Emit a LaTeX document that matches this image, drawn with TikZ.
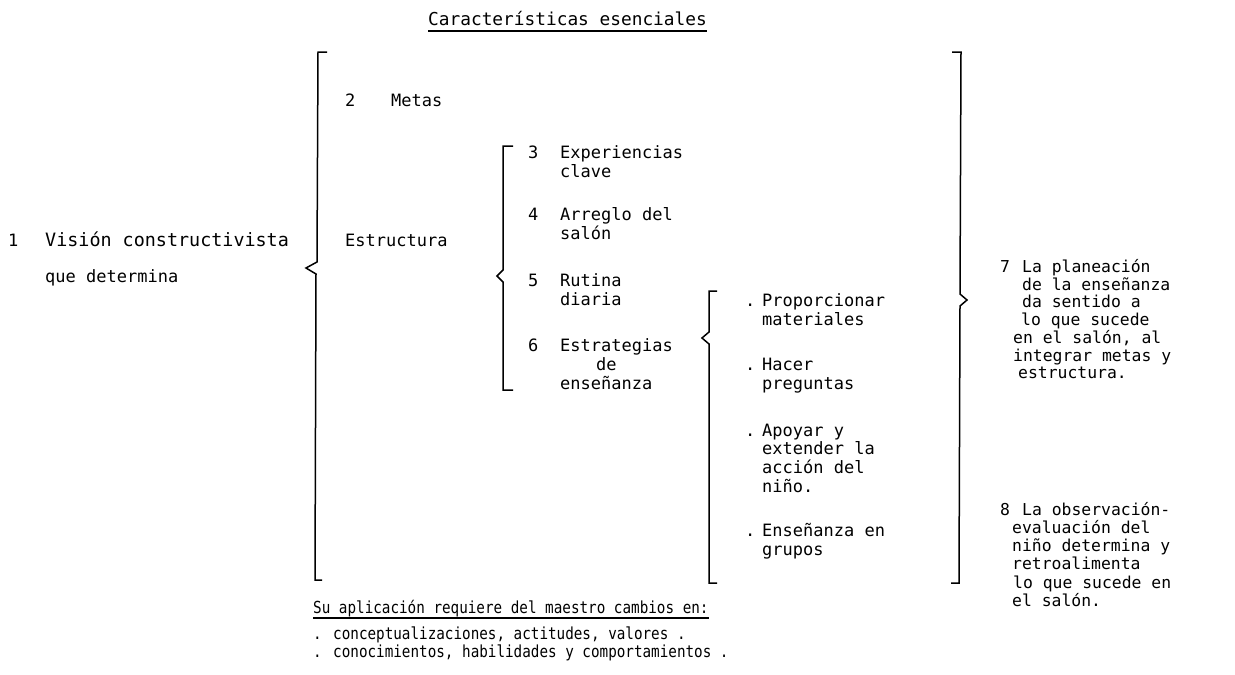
\documentclass[tikz,border=0pt]{standalone}
\usepackage{fontspec}
\setmainfont{DejaVu Sans Mono}
\newfontfamily\narrowtw[FakeStretch=0.86]{DejaVu Sans Mono}
\newcommand{\mlines}[1]{\begin{tabular}[t]{@{}l@{}}#1\end{tabular}}
\begin{document}
\begin{tikzpicture}[x=1pt,y=-1pt,
  txt/.style={inner sep=0pt, anchor=base west, font=\fontsize{17}{19}\selectfont},
  rt/.style={txt, font=\fontsize{16.4}{18}\selectfont},
  small/.style={txt, font=\narrowtw\fontsize{16.6}{18}\selectfont},
  brk/.style={line width=1.5pt, line join=miter},
  uline/.style={line width=1.2pt}]
\useasboundingbox (0,0) rectangle (1235,675);

% title
\node[txt, font=\fontsize{17.8}{19}\selectfont] (title) at (428,25) {Características esenciales};
\draw[uline] ([yshift=-6pt]title.base west) -- ([yshift=-6pt]title.base east);

% 1
\node[txt] (n1) at (8,246) {1};
\node[txt, font=\fontsize{18.4}{19}\selectfont] (vis) at (45,246) {Visión constructivista};
\node[txt] (que) at (45,282) {que determina};

% big left brace
\draw[brk] (327,52) -- (318,52) -- (317,262) -- (306,268) -- (316,274) -- (315,580) -- (322,580);

% 2 and Estructura
\node[txt] (n2) at (345,106) {2};
\node[txt] (metas) at (391,106) {Metas};
\node[txt] (estr) at (345,246) {Estructura};

% brace for 3-6
\draw[brk] (513,146) -- (503,146) -- (503,270) -- (497,276) -- (503,282) -- (503,390) -- (513,390);

\node[txt] (n3) at (528,158) {3};
\node[txt] (t3) at (560,158) {\mlines{Experiencias\\clave}};
\node[txt] (n4) at (528,220) {4};
\node[txt] (t4) at (560,220) {\mlines{Arreglo del\\salón}};
\node[txt] (n5) at (528,286) {5};
\node[txt] (t5) at (560,286) {\mlines{Rutina\\diaria}};
\node[txt] (n6) at (528,351) {6};
\node[txt] (t6) at (560,351) {\mlines{Estrategias\\\hspace*{36pt}de\\enseñanza}};

% brace for strategies
\draw[brk] (717,291) -- (709,291) -- (709,332) -- (702,338) -- (709,344) -- (709,583) -- (717,583);

\node[txt] (d1) at (745,306) {.};
\node[txt] (p1) at (762,306) {\mlines{Proporcionar\\materiales}};
\node[txt] (d2) at (745,370) {.};
\node[txt] (p2) at (762,370) {\mlines{Hacer\\preguntas}};
\node[txt] (d3) at (745,436) {.};
\node[txt, font=\fontsize{17}{18.4}\selectfont] (p3) at (762,436) {\mlines{Apoyar y\\extender la\\acción del\\niño.}};
\node[txt] (d4) at (745,536) {.};
\node[txt] (p4) at (762,536) {\mlines{Enseñanza en\\grupos}};

% big right brace
\draw[brk] (952,52) -- (961,52) -- (960,294) -- (967,300) -- (960,306) -- (959,583) -- (951,583);

% 7
\node[rt] (n7) at (1000,272) {7};
\node[rt] (a1) at (1022,272) {La planeación};
\node[rt] (a2) at (1022,290) {de la enseñanza};
\node[rt] (a3) at (1022,307) {da sentido a};
\node[rt] (a4) at (1021,325) {lo que sucede};
\node[rt] (a5) at (1013,343) {en el salón, al};
\node[rt] (a6) at (1013,361) {integrar metas y};
\node[rt] (a7) at (1018,378) {estructura.};

% 8
\node[rt] (n8) at (1000,515) {8};
\node[rt] (b1) at (1022,515) {La observación-};
\node[rt] (b2) at (1012,533) {evaluación del};
\node[rt] (b3) at (1012,551) {niño determina y};
\node[rt] (b4) at (1012,569) {retroalimenta};
\node[rt] (b5) at (1013,588) {lo que sucede en};
\node[rt] (b6) at (1012,606) {el salón.};

% bottom
\node[small] (su) at (313,613) {Su aplicación requiere del maestro cambios en:};
\draw[uline] ([yshift=-5pt]su.base west) -- ([yshift=-5pt]su.base east);
\node[small] (c1) at (313,639) {. conceptualizaciones, actitudes, valores .};
\node[small] (c2) at (313,657) {. conocimientos, habilidades y comportamientos .};
\end{tikzpicture}
\end{document}
